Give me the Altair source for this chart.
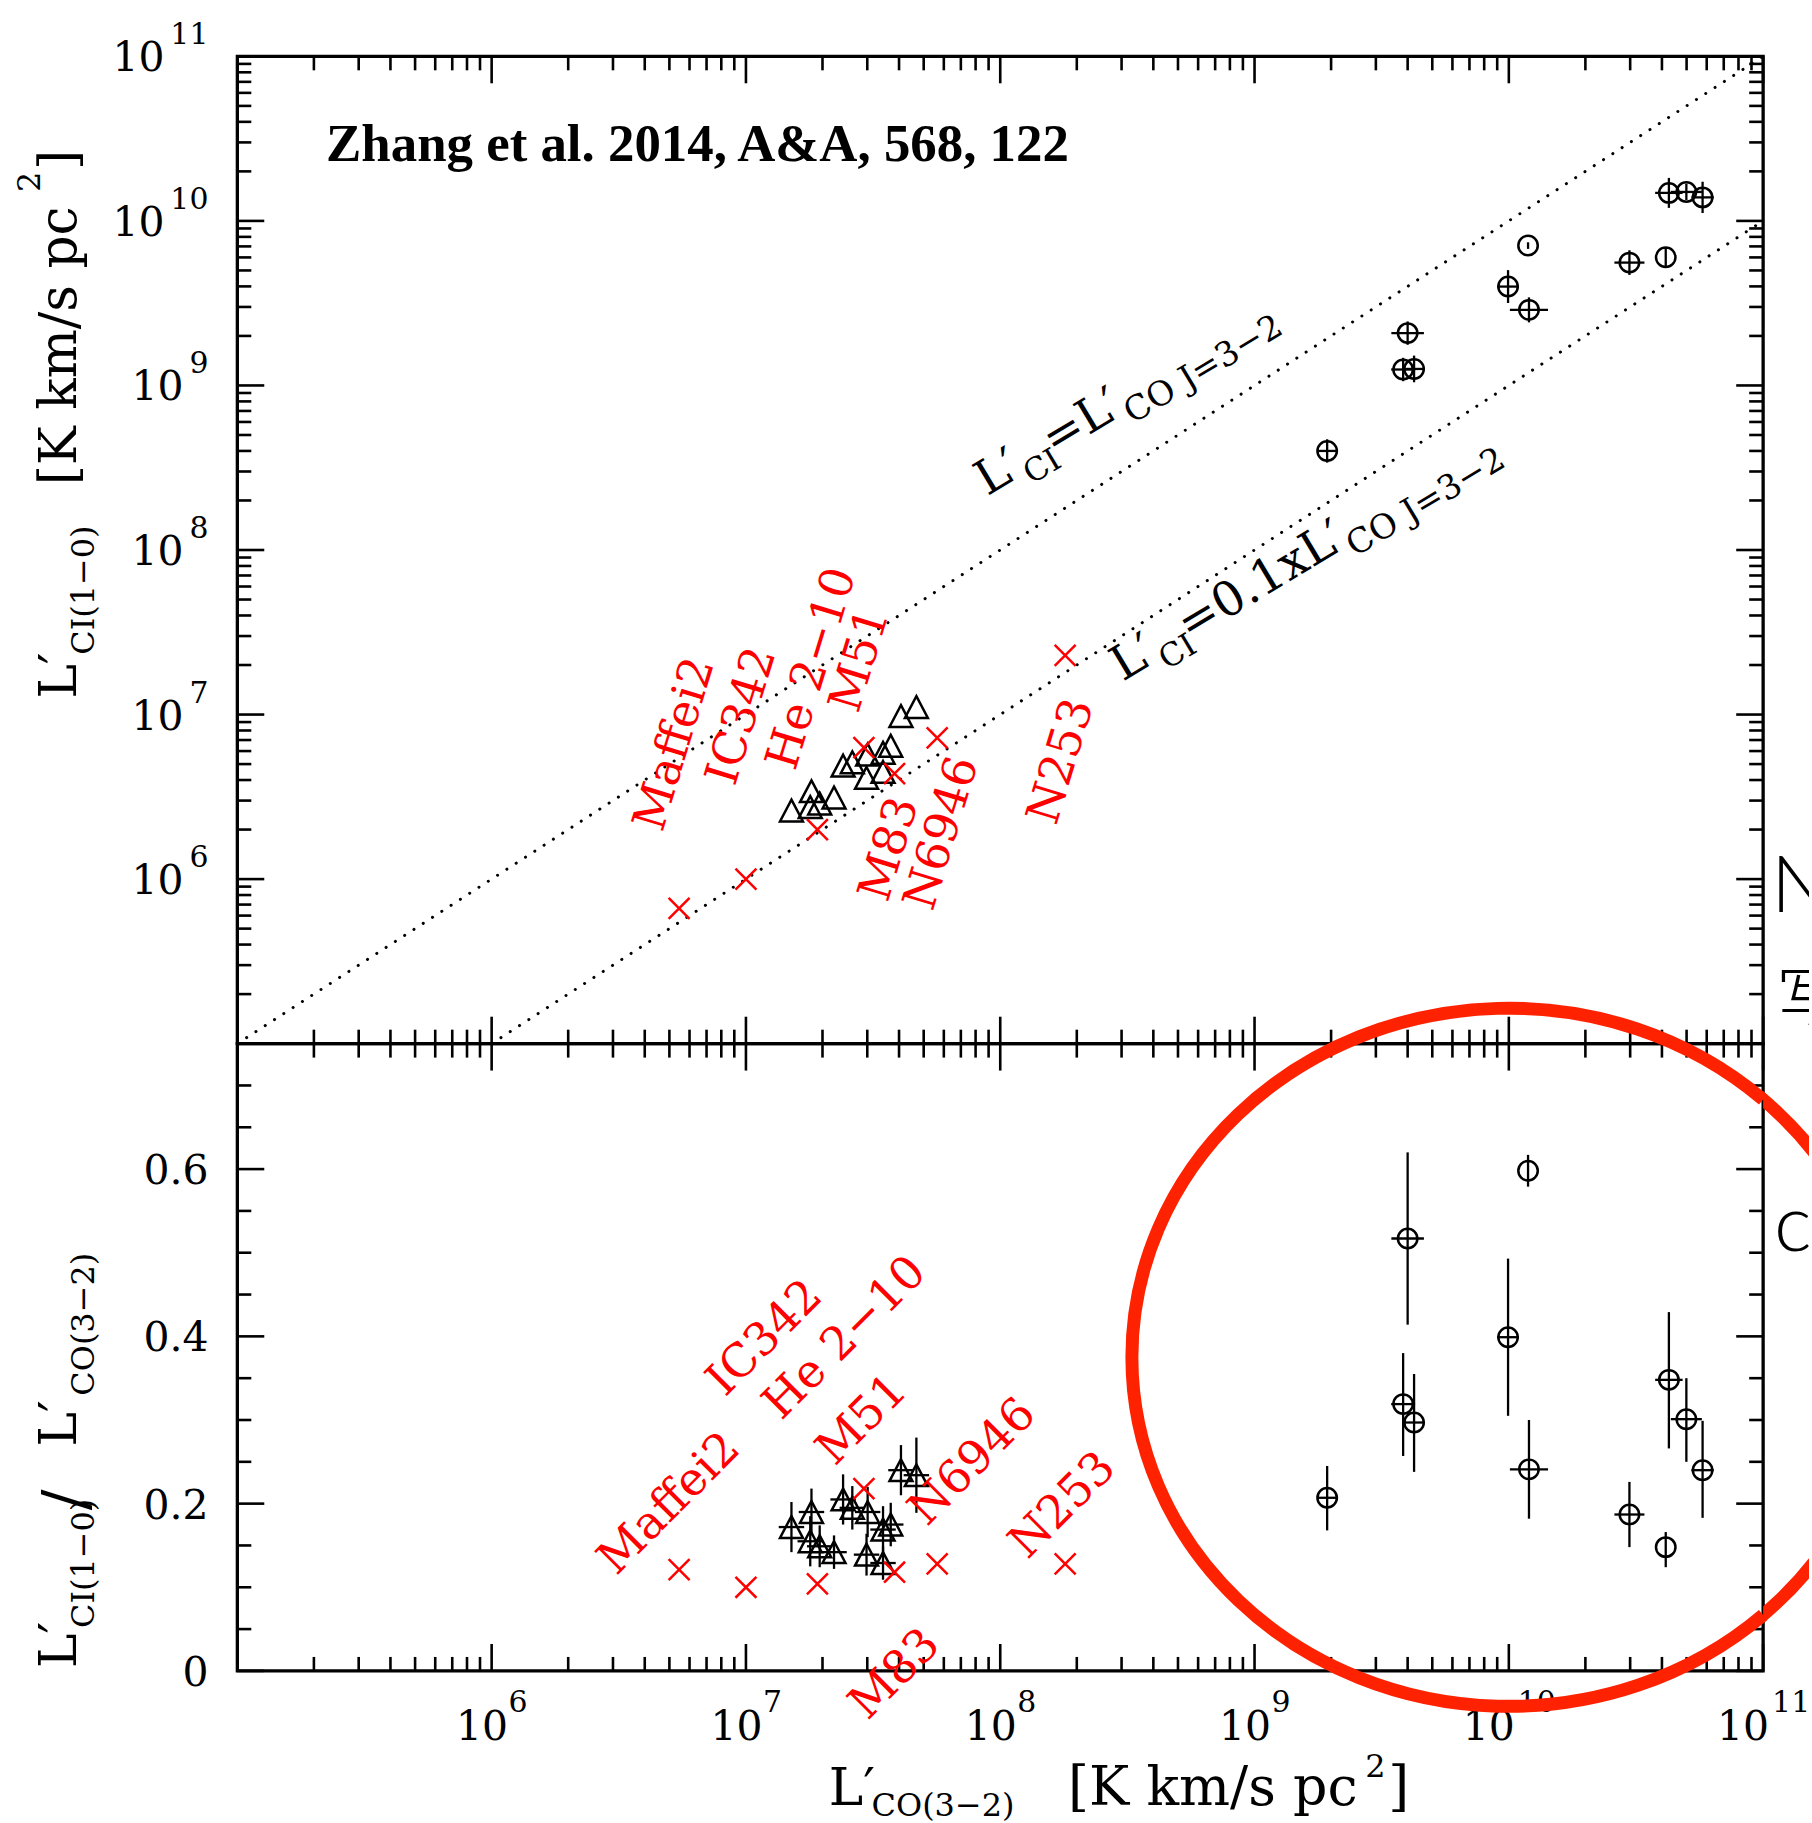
import altair as alt
import pandas as pd

# ------------------------------------------------------------------
# Data
# ------------------------------------------------------------------
# High-luminosity sample: open circles with error bars
co_hi = [1.93e9, 4.00e9, 3.84e9, 4.24e9, 9.93e9, 1.19e10,
         1.20e10, 2.98e10, 4.14e10, 4.26e10, 4.99e10, 5.78e10]
ci_hi = [4.0e8, 2.08e9, 1.25e9, 1.26e9, 3.99e9, 7.08e9,
         2.88e9, 5.58e9, 6.01e9, 1.48e10, 1.50e10, 1.39e10]
co_hi_err = [0.036, 0.064, 0.047, 0.040, 0.043, 0.0,
             0.075, 0.059, 0.0, 0.054, 0.061, 0.044]          # dex
ci_hi_err = [0.071, 0.071, 0.071, 0.081, 0.100, 0.020,
             0.076, 0.075, 0.060, 0.091, 0.050, 0.095]        # dex
ratio_hi = [0.207, 0.517, 0.319, 0.297, 0.399, 0.598,
            0.241, 0.187, 0.148, 0.348, 0.301, 0.240]
ratio_hi_lo = [0.168, 0.414, 0.257, 0.238, 0.305, 0.579,
               0.182, 0.148, 0.124, 0.266, 0.250, 0.183]
ratio_hi_up = [0.245, 0.620, 0.380, 0.355, 0.493, 0.617,
               0.300, 0.226, 0.166, 0.429, 0.350, 0.299]

# Triangles
co_tri = [1.51e7, 1.81e7, 1.95e7, 1.79e7, 2.22e7, 2.41e7, 2.62e7,
          2.98e7, 3.01e7, 3.46e7, 3.46e7, 3.71e7, 4.07e7, 4.68e7]
ci_tri = [2.61e6, 3.42e6, 2.88e6, 2.74e6, 3.13e6, 4.89e6, 5.13e6,
          4.12e6, 5.71e6, 4.48e6, 5.86e6, 6.46e6, 9.80e6, 1.11e7]
ratio_tri = [0.172, 0.190, 0.149, 0.155, 0.142, 0.205, 0.195,
             0.139, 0.190, 0.129, 0.169, 0.175, 0.240, 0.234]
ratio_tri_err = [0.030, 0.028, 0.025, 0.030, 0.020, 0.030, 0.026,
                 0.025, 0.030, 0.020, 0.028, 0.026, 0.030, 0.045]
co_tri_err = [0.05] * 14                                       # dex

# Nearby galaxies: red crosses
gal_names = ["Maffei2", "IC342", "He 2\u221210", "M51", "M83", "N6946", "N253"]
co_gal = [5.46e6, 1.0e7, 1.91e7, 2.91e7, 3.84e7, 5.65e7, 1.80e8]
ci_gal = [6.63e5, 1.0e6, 2.0e6, 6.3e6, 4.37e6, 7.22e6, 2.29e7]
ratio_gal = [0.121, 0.100, 0.104, 0.218, 0.118, 0.128, 0.128]
# where each name is written (data units)
name_top_co = [5.26e6, 9.64e6, 1.82e7, 2.81e7, 3.67e7, 5.9e7, 1.74e8]
name_top_ci = [6.62e6, 9.8e6, 1.90e7, 2.14e7, 1.52e6, 1.90e6, 5.19e6]
name_bot_co = [5.0e6, 1.186e7, 2.45e7, 2.86e7, 3.85e7, 7.78e7, 1.76e8]
name_bot_ratio = [0.200, 0.398, 0.398, 0.300, -0.004, 0.250, 0.198]

# Reference relations L'CI = L'CO and L'CI = 0.1 L'CO
rel_co = [1e5, 1e11, 1e6, 1e11]
rel_ci = [1e5, 1e11, 1e5, 1e10]
rel_name = ["unity", "unity", "tenth", "tenth"]

# Axis ticks and labels
log_major = [10.0 ** k for k in range(5, 12)]
log_minor = [m * 10.0 ** k for k in range(5, 11) for m in range(2, 10)]
ratio_major = [0.0, 0.2, 0.4, 0.6]
ratio_minor = [0.05, 0.1, 0.15, 0.25, 0.3, 0.35, 0.45, 0.5, 0.55, 0.65, 0.7]
log_label_exp = [6, 7, 8, 9, 10, 11]
ratio_labels = ["0", "0.2", "0.4", "0.6"]

# ------------------------------------------------------------------
# Layout and style
# ------------------------------------------------------------------
SERIF = "DejaVu Serif"
W, H1, H2 = 1530, 990, 629
SIDE_W = 46
TICK_W = 2.6
MAJ, MIN = 27, 14
RED = "#ff0000"
RING_COLOR = "#ff2200"

x_scale = alt.Scale(type="log", domain=[1e5, 1e11], nice=False)
y_top = alt.Scale(type="log", domain=[1e5, 1e11], nice=False)
y_bot = alt.Scale(type="linear", domain=[0, 0.75], nice=False, zero=False)
# continuation of the x axis beyond the right frame (same px per decade)
x_side = alt.Scale(type="log", domain=[1e11, 10 ** (11 + SIDE_W / (W / 6))], nice=False)


def X(f):
    return alt.X(f"{f}:Q", scale=x_scale, axis=None)


def YT(f):
    return alt.Y(f"{f}:Q", scale=y_top, axis=None)


def YB(f):
    return alt.Y(f"{f}:Q", scale=y_bot, axis=None)


ONE = pd.DataFrame({"k": [0]})

TRIANGLE = "M0,-0.95L1,0.95L-1,0.95Z"
CROSS = "M-1,-1L1,1M-1,1L1,-1"
RING_RX = 378                      # px, horizontal semi-axis of the ring
RING_FULL = "M1,0A1,0.926,0,1,0,-1,0A1,0.926,0,1,0,1,0"
RING_OPEN = "M0.6746,-0.6836A1,0.926,0,1,0,0.6746,0.6836"   # stops at the right frame


def txt(text, px, py, size, angle=0, align="left", color="black",
        font=SERIF, weight="normal", clip=False):
    return alt.Chart(ONE).mark_text(
        text=text, fontSize=size, angle=angle, align=align,
        baseline="alphabetic", font=font, color=color, fontWeight=weight, clip=clip
    ).encode(x=alt.value(px), y=alt.value(py))


def x_edge_ticks(values, length, height):
    d = pd.DataFrame({"v": values})
    m = dict(color="black", strokeWidth=TICK_W)
    return [
        alt.Chart(d).mark_rule(**m).encode(x=X("v"), y=alt.value(0), y2=alt.value(length)),
        alt.Chart(d).mark_rule(**m).encode(x=X("v"), y=alt.value(height - length),
                                           y2=alt.value(height)),
    ]


def y_edge_ticks(values, length, Y):
    d = pd.DataFrame({"v": values})
    m = dict(color="black", strokeWidth=TICK_W)
    return [
        alt.Chart(d).mark_rule(**m).encode(y=Y("v"), x=alt.value(0), x2=alt.value(length)),
        alt.Chart(d).mark_rule(**m).encode(y=Y("v"), x=alt.value(W - length),
                                           x2=alt.value(W)),
    ]


# ------------------------------------------------------------------
# Tables
# ------------------------------------------------------------------
hi = pd.DataFrame({
    "co": co_hi, "ci": ci_hi, "ratio": ratio_hi,
    "r_lo": ratio_hi_lo, "r_up": ratio_hi_up,
    "co_lo": [c * 10 ** (-e) for c, e in zip(co_hi, co_hi_err)],
    "co_up": [c * 10 ** e for c, e in zip(co_hi, co_hi_err)],
    "ci_lo": [c * 10 ** (-e) for c, e in zip(ci_hi, ci_hi_err)],
    "ci_up": [c * 10 ** e for c, e in zip(ci_hi, ci_hi_err)],
})
tri = pd.DataFrame({
    "co": co_tri, "ci": ci_tri, "ratio": ratio_tri,
    "r_lo": [r - e for r, e in zip(ratio_tri, ratio_tri_err)],
    "r_up": [r + e for r, e in zip(ratio_tri, ratio_tri_err)],
    "co_lo": [c * 10 ** (-e) for c, e in zip(co_tri, co_tri_err)],
    "co_up": [c * 10 ** e for c, e in zip(co_tri, co_tri_err)],
})
gal = pd.DataFrame({"name": gal_names, "co": co_gal, "ci": ci_gal, "ratio": ratio_gal})
gal_top_names = pd.DataFrame({"name": gal_names, "co": name_top_co, "ci": name_top_ci})
gal_bot_names = pd.DataFrame({"name": gal_names, "co": name_bot_co, "ratio": name_bot_ratio})
rel = pd.DataFrame({"co": rel_co, "ci": rel_ci, "rel": rel_name})

exp_df = pd.DataFrame({"v": [10.0 ** k for k in log_label_exp],
                       "e": [str(k) for k in log_label_exp],
                       "nd": [len(str(k)) for k in log_label_exp]})
ratio_lab_df = pd.DataFrame({"v": ratio_major, "t": ratio_labels})
ring = pd.DataFrame({"co": [1.0e10], "ratio": [0.375]})

# ------------------------------------------------------------------
# Upper panel: L'CI(1-0) against L'CO(3-2)
# ------------------------------------------------------------------
top_layers = [
    # fixes the page origin 236 px left of / 52 px above the plot frame
    alt.Chart(ONE).mark_rule(strokeOpacity=0, strokeWidth=1).encode(
        x=alt.value(-236), x2=alt.value(-236), y=alt.value(-52), y2=alt.value(-50)),
]
top_layers += x_edge_ticks(log_major, MAJ, H1) + x_edge_ticks(log_minor, MIN, H1)
top_layers += y_edge_ticks(log_major, MAJ, YT) + y_edge_ticks(log_minor, MIN, YT)

top_layers.append(
    alt.Chart(rel).mark_line(color="black", strokeWidth=3, strokeDash=[0.1, 11],
                             strokeCap="round").encode(x=X("co"), y=YT("ci"), detail="rel:N"))

top_layers.append(alt.Chart(hi).mark_rule(color="black", strokeWidth=2.3).encode(
    x=X("co_lo"), x2="co_up:Q", y=YT("ci")))
top_layers.append(alt.Chart(hi).mark_rule(color="black", strokeWidth=2.3).encode(
    x=X("co"), y=YT("ci_lo"), y2="ci_up:Q"))
top_layers.append(alt.Chart(hi).mark_point(shape="circle", size=380, filled=False,
                                           color="black", strokeWidth=2.5, opacity=1).encode(
    x=X("co"), y=YT("ci")))
top_layers.append(alt.Chart(tri).mark_point(shape=TRIANGLE, size=529, filled=False,
                                            color="black", strokeWidth=2.5, opacity=1).encode(
    x=X("co"), y=YT("ci")))
top_layers.append(alt.Chart(gal).mark_point(shape=CROSS, size=441, filled=False,
                                            color=RED, strokeWidth=2.5, opacity=1).encode(
    x=X("co"), y=YT("ci")))
top_layers.append(alt.Chart(gal_top_names).mark_text(
    font=SERIF, fontSize=46, angle=287, align="center", baseline="middle", color=RED).encode(
    x=X("co"), y=YT("ci"), text="name:N"))

top_layers.append(txt("Zhang et al. 2014, A&A, 568, 122", 89, 105, 53,
                      font="Liberation Serif", weight="bold"))

# labels of the two reference relations, written along the lines
unity_anchor = pd.DataFrame({"co": [8.89e7], "ci": [2.12e8]})
tenth_anchor = pd.DataFrame({"co": [3.03e8], "ci": [1.585e7]})
unity_parts = [("L\u2032", 48, 0, 0), ("CI", 32, 44, 13), ("=L\u2032", 48, 78, 0),
               ("CO J=3\u22122", 34, 162, 13)]
tenth_parts = [("L\u2032", 48, 0, 0), ("CI", 32, 44, 13), ("=0.1xL\u2032", 48, 78, 0),
               ("CO J=3\u22122", 34, 264, 13)]
for anchor, parts in ((unity_anchor, unity_parts), (tenth_anchor, tenth_parts)):
    for text, size, dx, dy in parts:
        top_layers.append(alt.Chart(anchor).mark_text(
            text=text, font=SERIF, fontSize=size, angle=329, align="left",
            baseline="alphabetic", dx=dx, dy=dy, color="black").encode(x=X("co"), y=YT("ci")))

# y tick labels: 10^k
for nd, x10 in ((1, -54), (2, -73)):
    top_layers.append(alt.Chart(exp_df[exp_df.nd == nd]).mark_text(
        text="10", font=SERIF, fontSize=41, align="right", baseline="alphabetic",
        dy=15, color="black").encode(y=YT("v"), x=alt.value(x10)))
top_layers.append(alt.Chart(exp_df).mark_text(
    font=SERIF, fontSize=30, align="right", baseline="alphabetic", dy=-12,
    color="black").encode(y=YT("v"), x=alt.value(-29), text="e:N"))

# y title
top_layers += [
    txt("L\u2032", -162, 644, 52, angle=270),
    txt("CI(1\u22120)", -144, 600, 32, angle=270),
    txt("[K km/s pc", -162, 430, 52, angle=270),
    txt("2", -198, 136, 32, angle=270),
    txt("]", -162, 114, 52, angle=270),
]

top = alt.layer(*top_layers).properties(width=W, height=H1)

# ------------------------------------------------------------------
# Lower panel: ratio L'CI(1-0) / L'CO(3-2)
# ------------------------------------------------------------------
bot_layers = []
bot_layers += x_edge_ticks(log_major, MAJ, H2) + x_edge_ticks(log_minor, MIN, H2)
bot_layers += y_edge_ticks(ratio_major, MAJ, YB) + y_edge_ticks(ratio_minor, MIN, YB)

for d in (tri, hi):
    bot_layers.append(alt.Chart(d).mark_rule(color="black", strokeWidth=2.3).encode(
        x=X("co_lo"), x2="co_up:Q", y=YB("ratio")))
    bot_layers.append(alt.Chart(d).mark_rule(color="black", strokeWidth=2.3).encode(
        x=X("co"), y=YB("r_lo"), y2="r_up:Q"))
bot_layers.append(alt.Chart(tri).mark_point(shape=TRIANGLE, size=529, filled=False,
                                            color="black", strokeWidth=2.5, opacity=1).encode(
    x=X("co"), y=YB("ratio")))
bot_layers.append(alt.Chart(hi).mark_point(shape="circle", size=380, filled=False,
                                           color="black", strokeWidth=2.5, opacity=1).encode(
    x=X("co"), y=YB("ratio")))
bot_layers.append(alt.Chart(gal).mark_point(shape=CROSS, size=441, filled=False,
                                            color=RED, strokeWidth=2.5, opacity=1).encode(
    x=X("co"), y=YB("ratio")))
bot_layers.append(alt.Chart(gal_bot_names).mark_text(
    font=SERIF, fontSize=46, angle=315, align="center", baseline="middle", color=RED).encode(
    x=X("co"), y=YB("ratio"), text="name:N"))

# y tick labels
bot_layers.append(alt.Chart(ratio_lab_df).mark_text(
    font=SERIF, fontSize=41, align="right", baseline="alphabetic", dy=15,
    color="black").encode(y=YB("v"), x=alt.value(-29), text="t:N"))

# x tick labels: 10^k
for nd, dx10, dxe in ((1, 16.5, 17), (2, 6, 9)):
    sub = exp_df[exp_df.nd == nd]
    bot_layers.append(alt.Chart(sub).mark_text(
        text="10", font=SERIF, fontSize=41, align="right", baseline="alphabetic",
        dx=dx10, color="black").encode(x=X("v"), y=alt.value(H2 + 69)))
    bot_layers.append(alt.Chart(sub).mark_text(
        font=SERIF, fontSize=30, align="left", baseline="alphabetic",
        dx=dxe, color="black").encode(x=X("v"), y=alt.value(H2 + 41), text="e:N"))

# y title
bot_layers += [
    txt("L\u2032", -162, 626, 52, angle=270),
    txt("CI(1\u22120)", -144, 586, 32, angle=270),
    txt("/", -152, 468, 62, angle=270),
    txt("L\u2032", -162, 404, 52, angle=270),
    txt("CO(3\u22122)", -144, 353, 32, angle=270),
]
# x title
bot_layers += [
    txt("L\u2032", 593, 763, 52),
    txt("CO(3\u22122)", 636, 774, 32),
    txt("[K km/s pc", 833, 763, 54),
    txt("2", 1131, 735, 32),
    txt("]", 1154, 763, 54),
]

# hand-drawn ring around the high-luminosity points (part inside the frame)
bot_layers.append(alt.Chart(ring).mark_point(
    shape=RING_OPEN, size=(2 * RING_RX) ** 2, filled=False, color=RING_COLOR,
    strokeWidth=13, opacity=1).encode(x=X("co"), y=YB("ratio")))

bottom = alt.layer(*bot_layers).properties(width=W, height=H2)

# ------------------------------------------------------------------
# Right margin: edge of the neighbouring page, clipped at the border
# ------------------------------------------------------------------
side_top = alt.Chart(
    pd.DataFrame({"t": ["N", "\u5199"], "px": [8, 13], "py": [858, 969], "fs": [80, 68]})
).mark_text(
    align="left", baseline="alphabetic", font="Lato, Noto Sans CJK SC",
    fontWeight=300, color="black", clip=True).encode(
    x=alt.X("px:Q", scale=None, axis=None),
    y=alt.Y("py:Q", scale=None, axis=None),
    text="t:N",
    size=alt.Size("fs:Q", scale=None, legend=None),
).properties(width=SIDE_W, height=H1, view=alt.ViewBackground(stroke="transparent"))

side_bot = alt.layer(
    alt.Chart(ring).mark_point(
        shape=RING_FULL, size=(2 * RING_RX) ** 2, filled=False, color=RING_COLOR,
        strokeWidth=13, opacity=1, clip=True).encode(
        x=alt.X("co:Q", scale=x_side, axis=None), y=YB("ratio")),
    txt("c", 11, 208, 80, font="Lato", weight=300, clip=True),
).properties(width=SIDE_W, height=H2, view=alt.ViewBackground(stroke="transparent"))

chart = alt.concat(
    top, side_top, bottom, side_bot, columns=2,
    spacing={"row": 0, "column": 0}, bounds="flush", align="each", padding=0,
).configure_view(stroke="black", strokeWidth=3.3)

chart.save("out.html", embed_options={"renderer": "svg", "actions": False})
